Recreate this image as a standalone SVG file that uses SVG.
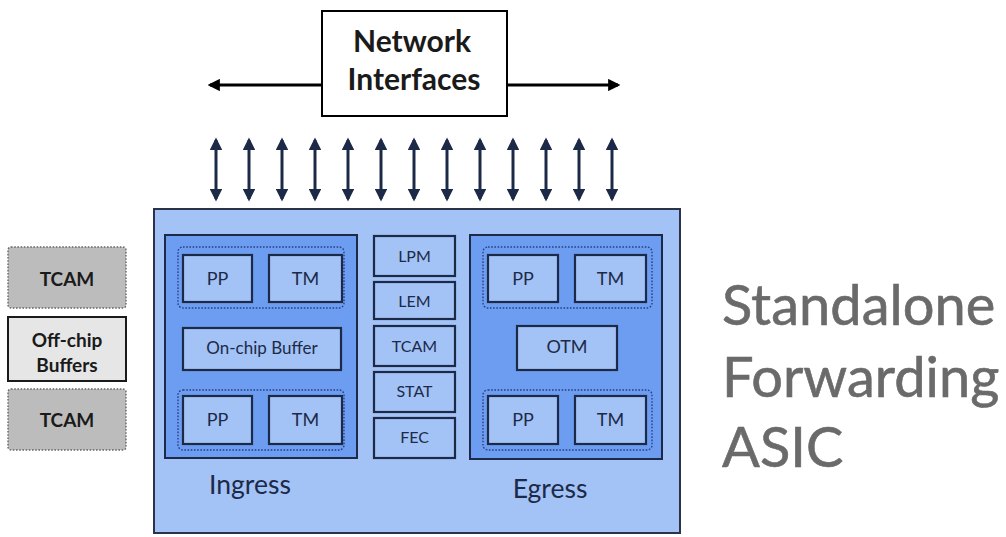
<svg xmlns="http://www.w3.org/2000/svg" width="1006" height="537" viewBox="0 0 1006 537">
  <defs>
    <marker id="headNavy" viewBox="0 0 10 10" refX="8" refY="5" markerWidth="4.2" markerHeight="4.2" orient="auto-start-reverse" markerUnits="strokeWidth">
      <path d="M0,0 L10,5 L0,10 z" fill="#1c2a48"/>
    </marker>
    <marker id="headBlack" viewBox="0 0 10 10" refX="8" refY="5" markerWidth="4.4" markerHeight="4.4" orient="auto-start-reverse" markerUnits="strokeWidth">
      <path d="M0,0 L10,5 L0,10 z" fill="#000"/>
    </marker>
    <style>
      .chip { fill: #a3c2f6; stroke: #2a3347; stroke-width: 2; }
      .pipe { fill: #6c9df0; stroke: #1c2a48; stroke-width: 2; }
      .unit { fill: #a3c2f6; stroke: #1c2a48; stroke-width: 2.2; }
      .grp { fill: none; stroke: #2b3f86; stroke-width: 1.4; stroke-dasharray: 1.6 1.6; }
      .ext { fill: #bcbcbc; stroke: #666; stroke-width: 1.4; stroke-dasharray: 1.6 1.6; }
      .buf { fill: #e6e6e6; stroke: #1a1a1a; stroke-width: 2; }
      .lbl { font-family: Lato, "Open Sans", sans-serif; fill: #1c2a48; text-anchor: middle; }
      .sm { font-size: 18px; }
      .xs { font-size: 16px; }
      .bold { font-weight: bold; fill: #1a1a1a; }
      .big { font-family: Lato, "Open Sans", sans-serif; font-size: 26.5px; fill: #1c2a48; text-anchor: middle; }
      .title { font-family: Lato, "Open Sans", sans-serif; font-size: 56px; fill: #6a6a6a; stroke: #6a6a6a; stroke-width: 0.6; }
      .v { stroke: #1c2a48; stroke-width: 3; fill: none; }
    </style>
  </defs>

  <rect width="1006" height="537" fill="#ffffff"/>

  <!-- Network interfaces with fan-out arrows -->
  <g id="connectors">
    <line x1="322" y1="85" x2="210" y2="85" stroke="#000" stroke-width="2.8" marker-end="url(#headBlack)"/>
    <line x1="507" y1="85" x2="618" y2="85" stroke="#000" stroke-width="2.8" marker-end="url(#headBlack)"/>
    <g class="v">
      <line x1="216" y1="140" x2="216" y2="199" marker-start="url(#headNavy)" marker-end="url(#headNavy)"/>
      <line x1="249" y1="140" x2="249" y2="199" marker-start="url(#headNavy)" marker-end="url(#headNavy)"/>
      <line x1="282" y1="140" x2="282" y2="199" marker-start="url(#headNavy)" marker-end="url(#headNavy)"/>
      <line x1="315" y1="140" x2="315" y2="199" marker-start="url(#headNavy)" marker-end="url(#headNavy)"/>
      <line x1="348" y1="140" x2="348" y2="199" marker-start="url(#headNavy)" marker-end="url(#headNavy)"/>
      <line x1="381" y1="140" x2="381" y2="199" marker-start="url(#headNavy)" marker-end="url(#headNavy)"/>
      <line x1="414" y1="140" x2="414" y2="199" marker-start="url(#headNavy)" marker-end="url(#headNavy)"/>
      <line x1="447" y1="140" x2="447" y2="199" marker-start="url(#headNavy)" marker-end="url(#headNavy)"/>
      <line x1="480" y1="140" x2="480" y2="199" marker-start="url(#headNavy)" marker-end="url(#headNavy)"/>
      <line x1="513" y1="140" x2="513" y2="199" marker-start="url(#headNavy)" marker-end="url(#headNavy)"/>
      <line x1="546" y1="140" x2="546" y2="199" marker-start="url(#headNavy)" marker-end="url(#headNavy)"/>
      <line x1="579" y1="140" x2="579" y2="199" marker-start="url(#headNavy)" marker-end="url(#headNavy)"/>
      <line x1="612" y1="140" x2="612" y2="199" marker-start="url(#headNavy)" marker-end="url(#headNavy)"/>
    </g>
  </g>

  <g id="network-interfaces">
    <rect x="322" y="11" width="185" height="105" fill="#fff" stroke="#000" stroke-width="2"/>
    <text class="lbl bold" x="412" y="52" font-size="30">Network</text>
    <text class="lbl bold" x="414" y="90" font-size="30">Interfaces</text>
  </g>

  <!-- Off-chip resources -->
  <g id="tcam-ext-1">
    <rect class="ext" x="8" y="247" width="118" height="61" rx="3"/>
    <text class="lbl bold" x="67" y="286" font-size="19">TCAM</text>
  </g>
  <g id="offchip-buffers">
    <rect class="buf" x="8" y="317" width="118" height="64"/>
    <text class="lbl bold" x="67" y="347" font-size="19">Off-chip</text>
    <text class="lbl bold" x="67" y="372" font-size="19">Buffers</text>
  </g>
  <g id="tcam-ext-2">
    <rect class="ext" x="8" y="389" width="118" height="61" rx="3"/>
    <text class="lbl bold" x="67" y="427" font-size="19">TCAM</text>
  </g>

  <!-- Forwarding ASIC -->
  <g id="asic">
    <rect class="chip" x="154" y="209" width="526" height="324"/>
  </g>

  <g id="ingress">
    <rect class="pipe" x="165" y="235" width="192" height="223"/>
    <rect class="grp" x="178" y="247" width="166" height="61" rx="5"/>
    <rect class="unit" x="183" y="255" width="69" height="47"/>
    <text class="lbl sm" x="217.5" y="285">PP</text>
    <rect class="unit" x="269" y="255" width="73" height="47"/>
    <text class="lbl sm" x="305.5" y="285">TM</text>
    <rect class="unit" x="183" y="328" width="158" height="42"/>
    <text class="lbl" x="262" y="354" font-size="17">On-chip Buffer</text>
    <rect class="grp" x="178" y="390" width="166" height="60" rx="5"/>
    <rect class="unit" x="183" y="396" width="69" height="48"/>
    <text class="lbl sm" x="217.5" y="426">PP</text>
    <rect class="unit" x="269" y="396" width="73" height="48"/>
    <text class="lbl sm" x="305.5" y="426">TM</text>
    <text class="big" x="250" y="494">Ingress</text>
  </g>

  <g id="lookup-tables">
    <rect class="unit" x="374" y="236" width="81" height="40"/>
    <text class="lbl xs" x="414.5" y="262">LPM</text>
    <rect class="unit" x="374" y="282" width="81" height="37"/>
    <text class="lbl xs" x="414.5" y="307">LEM</text>
    <rect class="unit" x="374" y="326" width="81" height="40"/>
    <text class="lbl xs" x="414.5" y="352">TCAM</text>
    <rect class="unit" x="374" y="372" width="81" height="40"/>
    <text class="lbl xs" x="414.5" y="397">STAT</text>
    <rect class="unit" x="374" y="418" width="81" height="40"/>
    <text class="lbl xs" x="414.5" y="443">FEC</text>
  </g>

  <g id="egress">
    <rect class="pipe" x="470" y="235" width="192" height="224"/>
    <rect class="grp" x="483" y="247" width="169" height="61" rx="5"/>
    <rect class="unit" x="488" y="255" width="70" height="47"/>
    <text class="lbl sm" x="523" y="285">PP</text>
    <rect class="unit" x="575" y="255" width="71" height="47"/>
    <text class="lbl sm" x="610.5" y="285">TM</text>
    <rect class="unit" x="517" y="326" width="100" height="44"/>
    <text class="lbl sm" x="567" y="353">OTM</text>
    <rect class="grp" x="483" y="390" width="169" height="60" rx="5"/>
    <rect class="unit" x="488" y="396" width="70" height="48"/>
    <text class="lbl sm" x="523" y="426">PP</text>
    <rect class="unit" x="575" y="396" width="71" height="48"/>
    <text class="lbl sm" x="610.5" y="426">TM</text>
    <text class="big" x="550" y="498">Egress</text>
  </g>

  <g id="caption">
    <text class="title" x="722" y="325">Standalone</text>
    <text class="title" x="722" y="397">Forwarding</text>
    <text class="title" x="722" y="467">ASIC</text>
  </g>
</svg>
